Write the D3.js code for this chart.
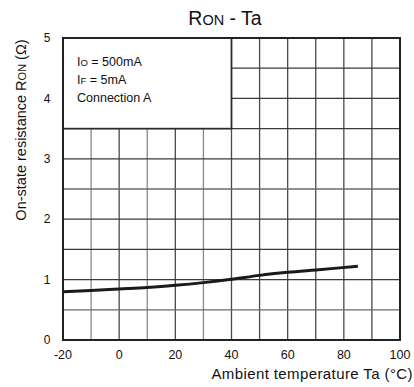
<!DOCTYPE html>
<html>
<head>
<meta charset="utf-8">
<script src="https://cdn.jsdelivr.net/npm/d3@7"></script>
<style>
  body { margin: 0; background: #fff; }
  text { font-family: "Liberation Sans", Arial, sans-serif; fill: #111; }
</style>
</head>
<body>
<div id="chart"></div>
<script>
// curve: Ta (°C) vs RON (Ω)
const temps = [-20, -10, 0, 10, 20, 30, 40, 50, 60, 70, 85];
const ron = [0.80, 0.82, 0.845, 0.87, 0.905, 0.95, 1.005, 1.07, 1.12, 1.16, 1.22];

const xTicks = [-20, 0, 20, 40, 60, 80, 100];
const yTicks = [0, 1, 2, 3, 4, 5];
const legendLines = [["I", "O", " = 500mA"], ["I", "F", " = 5mA"], ["Connection A", "", ""]];

const width = 414, height = 387;
const margin = {top: 38, right: 14, bottom: 47, left: 63};

const svg = d3.select("#chart").append("svg")
  .attr("width", width)
  .attr("height", height);

const x = d3.scaleLinear().domain([-20, 100]).range([margin.left, width - margin.right]);
const y = d3.scaleLinear().domain([0, 5]).range([height - margin.bottom, margin.top]);

// grid
const grid = svg.append("g");
d3.range(-10, 100, 10).forEach(t => {
  const minor = t % 20 !== 0;
  const y1 = t < 40 ? y(3.5) : y(5);
  grid.append("line")
    .attr("x1", x(t)).attr("x2", x(t))
    .attr("y1", y1).attr("y2", y(0))
    .attr("stroke", minor && t < 40 ? "#8a8a8a" : "#4a4a4a")
    .attr("stroke-width", 1.3);
});
d3.range(0.5, 5, 0.5).forEach(v => {
  const x1 = v > 3.5 ? x(40) : x(-20);
  grid.append("line")
    .attr("x1", x1).attr("x2", x(100))
    .attr("y1", y(v)).attr("y2", y(v))
    .attr("stroke", v === 0.5 || v === 2.5 ? "#6a6a6a" : "#3a3a3a")
    .attr("stroke-width", 1.3);
});

// legend box outline
svg.append("rect")
  .attr("x", x(-20)).attr("y", y(5))
  .attr("width", x(40) - x(-20)).attr("height", y(3.5) - y(5))
  .attr("fill", "none").attr("stroke", "#2a2a2a").attr("stroke-width", 1.6);

// frame
svg.append("rect")
  .attr("x", x(-20)).attr("y", y(5))
  .attr("width", x(100) - x(-20)).attr("height", y(0) - y(5))
  .attr("fill", "none").attr("stroke", "#222").attr("stroke-width", 2);

// curve
const line = d3.line().x((d, i) => x(temps[i])).y(d => y(d)).curve(d3.curveMonotoneX);
svg.append("path")
  .datum(ron)
  .attr("d", line)
  .attr("fill", "none")
  .attr("stroke", "#1a1a1a")
  .attr("stroke-width", 3);

// axes labels
svg.append("g").selectAll("text")
  .data(yTicks).join("text")
  .attr("x", 47).attr("y", d => y(d))
  .attr("dy", "0.35em")
  .attr("text-anchor", "middle")
  .attr("font-size", 12)
  .text(d => d);

svg.append("g").selectAll("text")
  .data(xTicks).join("text")
  .attr("x", d => x(d)).attr("y", 355)
  .attr("dy", "0.35em")
  .attr("text-anchor", "middle")
  .attr("font-size", 12.5)
  .text(d => d);

// title
const title = svg.append("text")
  .attr("x", 225).attr("y", 25)
  .attr("text-anchor", "middle")
  .attr("font-size", 19.5);
title.append("tspan").text("R");
title.append("tspan").attr("font-size", 14.5).text("ON");
title.append("tspan").text(" - Ta");

// legend text
legendLines.forEach((l, i) => {
  const t = svg.append("text")
    .attr("x", 77).attr("y", 66 + i * 18)
    .attr("font-size", 12.5);
  t.append("tspan").text(l[0]);
  if (l[1]) t.append("tspan").attr("font-size", 9.5).text(l[1]);
  if (l[2]) t.append("tspan").text(l[2]);
});

// axis titles
svg.append("text")
  .attr("x", 413).attr("y", 379)
  .attr("text-anchor", "end")
  .attr("font-size", 15)
  .attr("letter-spacing", 0.4)
  .text("Ambient temperature Ta (°C)");

const yt = svg.append("text")
  .attr("transform", "translate(26,130) rotate(-90)")
  .attr("text-anchor", "middle")
  .attr("font-size", 14.5);
yt.append("tspan").text("On-state resistance R");
yt.append("tspan").attr("font-size", 11).text("ON");
yt.append("tspan").text(" (Ω)");
</script>
</body>
</html>
